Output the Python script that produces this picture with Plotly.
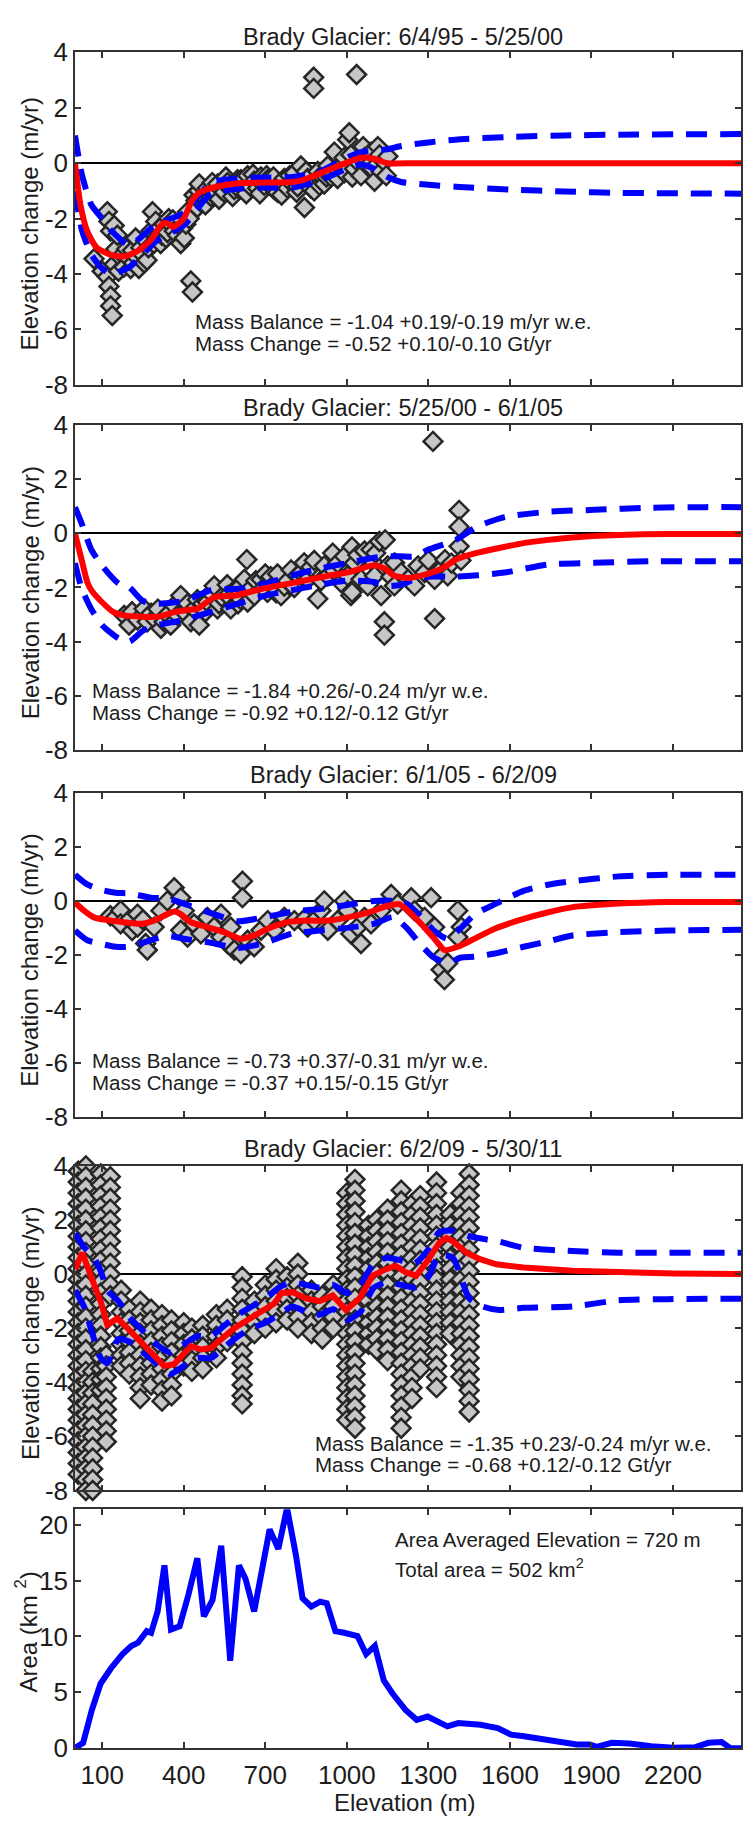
import plotly.graph_objects as go

# ---------------------------------------------------------------- data ----
ELEV_RANGE = [0, 2450]
X_TICKS = [100, 400, 700, 1000, 1300, 1600, 1900, 2200]
DH_TICKS = [-8, -6, -4, -2, 0, 2, 4]
DH_TICK_TEXT = ["-8", "-6", "-4", "-2", "0", "2", "4"]
AREA_TICKS = [0, 5, 10, 15, 20]

TITLES = [
    "Brady Glacier: 6/4/95 - 5/25/00",
    "Brady Glacier: 5/25/00 - 6/1/05",
    "Brady Glacier: 6/1/05 - 6/2/09",
    "Brady Glacier: 6/2/09 - 5/30/11",
]
MB_TEXT = [
    "Mass Balance = -1.04 +0.19/-0.19 m/yr w.e.",
    "Mass Balance = -1.84 +0.26/-0.24 m/yr w.e.",
    "Mass Balance = -0.73 +0.37/-0.31 m/yr w.e.",
    "Mass Balance = -1.35 +0.23/-0.24 m/yr w.e.",
]
MC_TEXT = [
    "Mass Change = -0.52 +0.10/-0.10 Gt/yr",
    "Mass Change = -0.92 +0.12/-0.12 Gt/yr",
    "Mass Change = -0.37 +0.15/-0.15 Gt/yr",
    "Mass Change = -0.68 +0.12/-0.12 Gt/yr",
]

# --- 1995-2000 ---
P1_PT_ELEV = [70, 100, 119, 125, 131, 119, 125, 131, 131, 137, 144, 144, 150, 156, 160, 168, 175, 180,
              190, 199, 205, 211, 215, 223, 229, 235, 242, 250, 255, 260, 265, 270, 279, 285, 290, 297,
              300, 310, 315, 320, 328, 335, 340, 345, 352, 360, 365, 377, 389, 395, 402, 408, 414, 420,
              426, 432, 438, 445, 450, 455, 457, 463, 475, 480, 487, 500, 505, 512, 525, 530, 537, 549,
              555, 561, 574, 580, 586, 598, 605, 610, 623, 630, 635, 647, 655, 659, 672, 680, 684, 696,
              705, 708, 721, 730, 733, 745, 758, 760, 770, 782, 790, 795, 807, 815, 819, 831, 844, 850,
              856, 868, 878, 878, 880, 893, 900, 905, 917, 925, 930, 942, 954, 960, 966, 979, 990, 991,
              1003, 1009, 1015, 1020, 1028, 1036, 1040, 1052, 1060, 1065, 1077, 1089, 1095, 1102, 1114,
              1120, 1126, 1138, 1145, 1151]
P1_PT_DH = [-3.45, -3.9, -1.75, -2.1, -2.45, -4.1, -4.45, -4.8, -5.15, -5.5, -2.25, -3.65, -3.1, -2.6,
            -3.9, -3.4, -3.3, -3.75, -3.1, -3.45, -3.8, -3.15, -3.6, -2.7, -3.4, -3.8, -3.05, -3.3, -3.6,
            -2.8, -3.5, -3.05, -2.45, -1.75, -2.9, -2.1, -2.7, -2.35, -2.9, -2.6, -2.2, -2.7, -2.5, -2.0,
            -2.2, -2.05, -2.45, -2.6, -2.9, -2.35, -2.7, -2.2, -1.75, -2.0, -4.25, -4.65, -1.15, -1.35,
            -1.6, -1.0, -0.75, -1.4, -1.25, -1.5, -0.9, -1.2, -0.7, -1.15, -0.75, -1.3, -0.95, -1.05,
            -0.5, -0.7, -0.95, -1.2, -0.95, -0.6, -0.95, -0.6, -0.9, -1.1, -0.45, -0.85, -0.4, -0.65,
            -0.9, -1.1, -0.5, -0.8, -0.45, -0.6, -0.7, -0.5, -0.95, -1.05, -0.75, -1.15, -0.55, -0.9,
            -0.45, -0.7, -0.35, -1.05, -0.85, -0.1, -1.6, -0.3, -0.55, -0.9, 3.1, 2.7, -1.0, -0.3, -0.8,
            -0.45, -0.75, -0.5, -0.1, -0.5, 0.4, -0.2, -0.55, -0.1, 0.2, -0.35, 0.85, 1.1, 0.3, -0.5,
            -0.2, 3.2, 0.05, -0.45, 0.6, 0.2, -0.1, 0.4, -0.2, -0.65, 0.6, 0.3, -0.3, 0.05, -0.45, 0.25]
P1_FIT_ELEV = [0, 20, 45, 80, 130, 180, 230, 280, 320, 340, 360, 400, 430, 460, 520, 600, 700, 780,
               830, 880, 940, 1000, 1050, 1100, 1150, 1250, 1500, 2000, 2450]
P1_FIT_DH = [0.0, -1.5, -2.45, -3.05, -3.3, -3.37, -3.17, -2.76, -2.2, -2.17, -2.3, -2.0, -1.35, -1.05,
             -0.85, -0.72, -0.7, -0.69, -0.63, -0.45, -0.21, 0.02, 0.2, 0.16, 0.0, 0.0, 0.0, 0.0, 0.0]
P1_BAND_ELEV = [0, 25, 60, 100, 130, 200, 300, 400, 500, 600, 700, 800, 900, 1000, 1050, 1100, 1150,
                1200, 1300, 1400, 1600, 1800, 2000, 2450]
P1_UPPER = [1.0, -0.4, -1.5, -2.0, -2.4, -2.95, -2.2, -1.8, -0.7, -0.55, -0.52, -0.5, -0.3, 0.2, 0.4,
            0.45, 0.5, 0.62, 0.75, 0.85, 0.95, 1.0, 1.03, 1.05]
P1_LOWER = [-1.0, -2.4, -3.3, -3.8, -4.0, -3.75, -2.8, -2.25, -1.1, -0.92, -0.88, -0.88, -0.62, -0.2,
            -0.05, -0.2, -0.5, -0.68, -0.78, -0.85, -0.95, -1.02, -1.07, -1.1]

# --- 2000-2005 ---
P2_PT_ELEV = [181, 199, 210, 230, 254, 266, 280, 291, 305, 316, 328, 340, 352, 365, 377, 389, 402, 414,
              426, 438, 450, 457, 470, 480, 487, 500, 512, 524, 530, 540, 560, 561, 573, 586, 598, 600,
              610, 623, 632, 635, 650, 660, 665, 684, 696, 700, 708, 720, 733, 740, 745, 758, 770, 782,
              795, 807, 820, 831, 843, 856, 868, 880, 893, 905, 917, 930, 948, 954, 966, 979, 991, 1003,
              1015, 1019, 1019, 1028, 1040, 1052, 1065, 1077, 1089, 1100, 1102, 1106, 1120, 1126, 1138,
              1138, 1141, 1150, 1162, 1175, 1176, 1200, 1225, 1249, 1262, 1286, 1300, 1317, 1323, 1323,
              1347, 1361, 1371, 1385, 1413, 1413, 1413, 1420]
P2_PT_DH = [-3.03, -3.39, -2.9, -3.2, -2.79, -3.27, -2.95, -3.15, -2.8, -3.51, -3.27, -3.0, -3.39, -2.67,
            -3.03, -2.3, -2.91, -2.6, -3.27, -2.79, -2.45, -3.39, -2.6, -2.9, -2.54, -2.2, -1.94, -2.79,
            -2.6, -2.35, -1.9, -2.3, -2.79, -2.1, -2.06, -2.6, -2.45, -1.7, -0.97, -2.54, -2.0, -2.3,
            -1.75, -1.7, -2.0, -1.5, -2.18, -1.6, -1.88, -2.2, -1.5, -2.3, -1.95, -1.76, -1.35, -2.0,
            -1.55, -1.45, -1.09, -1.7, -1.25, -1.0, -2.42, -1.75, -1.2, -1.57, -0.73, -1.39, -1.1, -1.82,
            -0.85, -1.57, -2.3, -0.5, -2.18, -1.1, -0.8, -1.7, -0.65, -1.94, -0.6, -1.1, -1.57, -0.73,
            -0.3, -2.3, -3.27, -3.76, -0.24, -1.2, -1.6, -1.94, -1.09, -1.45, -1.7, -1.94, -1.2, -1.45,
            -1.0, 3.4, -1.7, -3.15, -1.33, -0.97, -1.57, -1.1, 0.85, 0.24, -0.48, -1.0]
P2_FIT_ELEV = [0, 25, 45, 60, 95, 140, 180, 230, 280, 320, 365, 420, 450, 512, 586, 684, 807, 930,
               1000, 1052, 1100, 1140, 1175, 1225, 1297, 1350, 1405, 1475, 1560, 1650, 1740, 1830, 2000,
               2180, 2450]
P2_FIT_DH = [0.0, -1.0, -1.8, -2.1, -2.5, -2.9, -3.03, -3.07, -3.09, -3.05, -2.91, -2.82, -2.79, -2.36,
             -2.3, -2.06, -1.82, -1.57, -1.45, -1.3, -1.18, -1.3, -1.57, -1.65, -1.5, -1.3, -0.95, -0.73,
             -0.54, -0.36, -0.24, -0.15, -0.06, -0.02, -0.02]
P2_BAND_ELEV = [0, 25, 60, 100, 160, 200, 250, 300, 400, 500, 600, 700, 800, 900, 1000, 1100, 1150,
                1200, 1250, 1300, 1400, 1480, 1580, 1740, 1910, 2120, 2320, 2450]
P2_UPPER = [0.97, 0.35, -0.6, -1.2, -1.85, -2.0, -2.5, -2.6, -2.5, -2.1, -2.05, -1.85, -1.55, -1.3,
            -1.1, -0.9, -0.85, -0.85, -0.85, -0.6, -0.25, 0.25, 0.6, 0.8, 0.87, 0.95, 0.97, 0.97]
P2_LOWER = [-1.1, -2.05, -2.8, -3.4, -3.88, -4.0, -3.6, -3.4, -3.2, -2.9, -2.6, -2.3, -2.1, -1.9,
            -1.75, -1.8, -1.95, -1.9, -1.7, -1.6, -1.6, -1.55, -1.45, -1.15, -1.09, -1.03, -1.03, -1.03]

# --- 2005-2009 ---
P3_PT_ELEV = [130, 150, 168, 168, 200, 210, 230, 230, 250, 260, 266, 291, 316, 340, 365, 389, 402, 389,
              414, 438, 463, 487, 512, 537, 537, 561, 573, 586, 610, 616, 616, 635, 659, 684, 709, 733,
              770, 807, 844, 856, 880, 905, 917, 930, 966, 991, 1003, 1015, 1040, 1052, 1065, 1089,
              1126, 1163, 1187, 1237, 1249, 1286, 1310, 1323, 1347, 1347, 1359, 1371, 1408, 1421, 1408]
P3_PT_DH = [-0.55, -0.6, -0.36, -0.85, -0.7, -1.1, -0.49, -0.97, -0.7, -1.58, -1.82, -0.97, -0.36, 0.0,
            0.49, 0.12, -0.36, -1.09, -1.34, -0.85, -1.22, -0.61, -0.97, -0.49, -1.34, -1.58, -0.97,
            -1.82, -1.95, 0.73, 0.12, -1.46, -1.7, -1.09, -0.73, -1.09, -0.61, -0.73, -0.67, -0.97,
            -0.73, -0.36, 0.0, -1.09, -0.73, 0.0, -0.36, -1.22, -0.97, -1.58, -0.61, -0.85, -0.36, 0.24,
            -0.12, 0.12, -0.36, -0.61, 0.12, -0.97, -2.07, -2.55, -2.92, -2.31, -0.36, -0.97, -1.34]
P3_FIT_ELEV = [0, 33, 70, 119, 180, 242, 291, 328, 365, 389, 426, 487, 549, 610, 659, 709, 782, 856,
               930, 1003, 1077, 1151, 1193, 1224, 1273, 1322, 1359, 1408, 1470, 1544, 1650, 1738, 1826,
               2000, 2180, 2450]
P3_FIT_DH = [-0.06, -0.36, -0.61, -0.71, -0.79, -0.85, -0.73, -0.55, -0.39, -0.49, -0.79, -0.97, -1.16,
             -1.4, -1.28, -1.03, -0.79, -0.73, -0.73, -0.61, -0.43, -0.18, -0.12, -0.36, -0.85, -1.4,
             -1.82, -1.7, -1.4, -1.03, -0.67, -0.43, -0.24, -0.1, -0.04, -0.04]
P3_BAND_ELEV = [0, 45, 100, 150, 200, 280, 340, 400, 500, 600, 700, 800, 900, 1000, 1100, 1170, 1220,
                1270, 1320, 1370, 1420, 1470, 1545, 1650, 1740, 1830, 2000, 2180, 2450]
P3_UPPER = [0.97, 0.61, 0.4, 0.3, 0.28, 0.12, 0.1, -0.1, -0.45, -0.75, -0.6, -0.4, -0.3, -0.15, 0.0,
            0.0, -0.1, -0.55, -1.1, -1.4, -1.0, -0.5, -0.12, 0.37, 0.6, 0.73, 0.91, 0.97, 0.97]
P3_LOWER = [-1.1, -1.46, -1.6, -1.7, -1.7, -1.45, -1.3, -1.4, -1.55, -1.75, -1.55, -1.2, -1.1, -1.0,
            -0.85, -0.6, -1.0, -1.6, -2.1, -2.3, -2.1, -2.07, -1.95, -1.7, -1.5, -1.28, -1.16, -1.1, -1.07]

# --- 2009-2011: points stacked in columns at each sampled elevation ---
P4_COL_ELEV = [12, 40, 65, 95, 115, 130, 170, 200, 240, 280, 320, 355, 400, 430, 470, 520, 560, 615,
               660, 700, 740, 780, 820, 870, 910, 950, 1000, 1030, 1080, 1110, 1150, 1200, 1240, 1270,
               1330, 1380, 1420, 1450]
P4_COL_DH = [
    [4.2, 3.8, 3.4, 3.0, 2.6, 2.2, 1.8, 1.4, 1.0, 0.6, 0.2, -0.2, -0.6, -1.0, -1.4, -1.8, -2.2, -2.6,
     -3.0, -3.4, -3.8, -4.2, -4.6, -5.0, -5.4, -5.8, -6.2, -6.6, -7.0, -7.4],
    [4.0, 3.6, 3.2, 2.8, 2.4, 2.0, 1.6, 1.2, 0.8, 0.4, 0.0, -0.4, -0.8, -1.2, -1.6, -2.0, -2.4, -2.8,
     -3.2, -3.6, -4.0, -4.4, -4.8, -5.2, -5.6, -6.0, -6.4, -6.8, -7.2, -7.6, -8.0],
    [-3.6, -4.0, -4.4, -4.8, -5.2, -5.6, -6.0, -6.4, -6.8, -7.2, -7.6, -8.0],
    [4.1, 3.7, 3.3, 2.9, 2.5, 2.1, 1.7, 1.3, 0.9, 0.5, 0.1, -0.3, -0.7, -1.1, -1.5, -1.9, -2.3, -2.7,
     -3.1, -3.5, -3.9, -4.3],
    [-3.0, -3.4, -3.8, -4.2, -4.6, -5.0, -5.4, -5.8, -6.2],
    [3.6, 3.2, 2.8, 2.4, 2.0, 1.6, 1.2, 0.8, 0.4, 0.0, -0.4, -0.8],
    [-0.6, -1.0, -1.4, -1.8, -2.2, -2.6, -3.0, -3.4],
    [-1.3, -1.7, -2.1, -2.5, -2.9, -3.3, -3.7],
    [-1.0, -1.4, -1.8, -2.2, -2.6, -3.0, -3.4, -3.8, -4.2, -4.6],
    [-1.3, -1.7, -2.1, -2.5, -2.9, -3.3, -3.7, -4.1],
    [-1.5, -1.9, -2.3, -2.7, -3.1, -3.5, -3.9, -4.3, -4.7],
    [-1.7, -2.1, -2.5, -2.9, -3.3, -3.7, -4.1, -4.5],
    [-1.8, -2.2, -2.6, -3.0, -3.4],
    [-2.0, -2.4, -2.8, -3.2, -3.6],
    [-1.9, -2.3, -2.7, -3.1, -3.5],
    [-1.5, -1.9, -2.3, -2.7, -3.1],
    [-1.3, -1.7, -2.1, -2.5],
    [-0.1, -0.5, -0.9, -1.3, -1.7, -2.1, -2.5, -2.9, -3.3, -3.7, -4.1, -4.5, -4.8],
    [-1.0, -1.4, -1.8, -2.2],
    [-0.4, -0.8, -1.2, -1.6, -2.0],
    [0.2, -0.2, -0.6, -1.0, -1.4, -1.8],
    [-0.1, -0.5, -0.9, -1.3, -1.7],
    [0.4, 0.0, -0.4, -0.8, -1.2, -1.6, -2.0],
    [-0.6, -1.0, -1.4, -1.8, -2.2],
    [-0.8, -1.2, -1.6, -2.0, -2.4],
    [-0.4, -0.8, -1.2, -1.6, -2.0],
    [3.0, 2.6, 2.2, 1.8, 1.4, 1.0, 0.6, 0.2, -0.2, -0.6, -1.0, -1.4, -1.8, -2.2, -2.6, -3.0, -3.4,
     -3.8, -4.2, -4.6, -5.0, -5.4],
    [3.5, 3.1, 2.7, 2.3, 1.9, 1.5, 1.1, 0.7, 0.3, -0.1, -0.5, -0.9, -1.3, -1.7, -2.1, -2.5, -2.9,
     -3.3, -3.7, -4.1, -4.5, -4.9, -5.3, -5.7],
    [1.8, 1.4, 1.0, 0.6, 0.2, -0.2, -0.6, -1.0, -1.4, -1.8, -2.2, -2.6],
    [2.0, 1.6, 1.2, 0.8, 0.4, 0.0, -0.4, -0.8, -1.2, -1.6, -2.0, -2.4, -2.8],
    [2.4, 2.0, 1.6, 1.2, 0.8, 0.4, 0.0, -0.4, -0.8, -1.2, -1.6, -2.0, -2.4, -2.8, -3.2],
    [3.1, 2.7, 2.3, 1.9, 1.5, 1.1, 0.7, 0.3, -0.1, -0.5, -0.9, -1.3, -1.7, -2.1, -2.5, -2.9, -3.3,
     -3.7, -4.1, -4.5, -4.9, -5.3, -5.7],
    [2.6, 2.2, 1.8, 1.4, 1.0, 0.6, 0.2, -0.2, -0.6, -1.0, -1.4, -1.8, -2.2, -2.6, -3.0, -3.4, -3.8,
     -4.2, -4.6],
    [2.9, 2.5, 2.1, 1.7, 1.3, 0.9, 0.5, 0.1, -0.3, -0.7, -1.1, -1.5, -1.9, -2.3, -2.7, -3.1, -3.5],
    [3.4, 3.0, 2.6, 2.2, 1.8, 1.4, 1.0, 0.6, 0.2, -0.2, -0.6, -1.0, -1.4, -1.8, -2.2, -2.6, -3.0,
     -3.4, -3.8, -4.2],
    [2.2, 1.8, 1.4, 1.0, 0.6, 0.2, -0.2, -0.6, -1.0, -1.4, -1.8, -2.2],
    [3.0, 2.6, 2.2, 1.8, 1.4, 1.0, 0.6, 0.2, -0.2, -0.6, -1.0, -1.4, -1.8, -2.2, -2.6, -3.0, -3.4,
     -3.8],
    [4.1, 3.7, 3.3, 2.9, 2.5, 2.1, 1.7, 1.3, 0.9, 0.5, 0.1, -0.3, -0.7, -1.1, -1.5, -1.9, -2.3, -2.7,
     -3.1, -3.5, -3.9, -4.3, -4.7, -5.1],
]
P4_FIT_ELEV = [0, 27, 58, 95, 119, 156, 193, 242, 291, 328, 365, 402, 426, 463, 500, 537, 586, 635,
               684, 733, 760, 801, 850, 900, 948, 997, 1046, 1095, 1144, 1180, 1218, 1255, 1292, 1340,
               1366, 1390, 1440, 1490, 1550, 1650, 1830, 2000, 2200, 2450]
P4_FIT_DH = [0.18, 0.79, -0.06, -1.03, -1.88, -1.64, -2.0, -2.49, -2.97, -3.4, -3.33, -2.97, -2.67,
             -2.79, -2.73, -2.42, -2.0, -1.7, -1.4, -1.09, -0.7, -0.67, -0.9, -1.0, -0.79, -1.33, -0.91,
             -0.06, 0.18, 0.3, 0.06, -0.06, 0.42, 1.15, 1.33, 1.21, 0.79, 0.55, 0.36, 0.24, 0.12, 0.06,
             0.02, 0.0]
P4_BAND_ELEV = [0, 33, 70, 95, 119, 160, 200, 250, 300, 350, 400, 450, 500, 550, 600, 650, 700, 750,
                800, 850, 900, 950, 1000, 1050, 1100, 1150, 1200, 1250, 1300, 1340, 1390, 1450, 1500,
                1560, 1650, 1830, 2000, 2180, 2450]
P4_UPPER = [1.5, 1.0, 0.6, 0.1, -0.6, -1.0, -1.6, -2.1, -2.6, -2.9, -2.6, -2.3, -2.3, -1.9, -1.5,
            -1.2, -0.9, -0.5, -0.3, -0.4, -0.5, -0.4, -0.7, -0.4, 0.4, 0.6, 0.5, 0.4, 0.9, 1.55, 1.6,
            1.4, 1.3, 1.2, 0.97, 0.85, 0.79, 0.79, 0.79]
P4_LOWER = [-0.6, -1.2, -2.4, -3.1, -3.3, -2.4, -2.5, -2.9, -3.3, -3.7, -3.4, -3.1, -3.1, -2.7, -2.3,
            -2.0, -1.8, -1.5, -1.2, -1.4, -1.5, -1.3, -1.7, -1.4, -0.5, -0.3, -0.4, -0.5, -0.1, 0.7,
            0.6, -0.9, -1.2, -1.33, -1.25, -1.2, -0.97, -0.93, -0.91]

# --- area-altitude distribution ---
P5_ELEV = [2, 30, 62, 94, 135, 175, 207, 232, 264, 280, 304, 329, 353, 385, 417, 450, 474, 506, 538,
           571, 603, 627, 659, 716, 748, 780, 813, 837, 869, 902, 926, 958, 990, 1039, 1071, 1103,
           1136, 1168, 1216, 1257, 1297, 1329, 1370, 1410, 1491, 1555, 1604, 1652, 1717, 1781, 1846,
           1894, 1919, 1975, 2040, 2120, 2201, 2282, 2330, 2379, 2411, 2450]
P5_AREA = [0.03, 0.48, 3.42, 5.77, 7.24, 8.42, 9.15, 9.45, 10.48, 10.33, 12.24, 16.36, 10.62, 10.92,
           13.71, 17.0, 11.8, 13.27, 18.12, 7.83, 16.36, 15.18, 12.24, 19.59, 17.83, 21.5, 17.24,
           13.42, 12.68, 13.12, 12.97, 10.48, 10.33, 10.04, 8.42, 9.15, 6.06, 4.89, 3.42, 2.54, 2.83,
           2.39, 1.95, 2.24, 2.09, 1.8, 1.21, 1.06, 0.83, 0.62, 0.33, 0.33, 0.12, 0.48, 0.42, 0.18,
           0.03, 0.09, 0.48, 0.54, 0.0, 0.0]
AREA_NOTE = ["Area Averaged Elevation = 720 m", "Total area = 502 km<sup>2</sup>"]

# ------------------------------------------------------------- layout -----
W, H = 744, 1832
X_LEFT, X_RIGHT = 75, 741
PANELS_PX = [(38, 376), (417, 747), (791, 1120), (1170, 1500), (1519, 1762)]
TITLE_Y = [22, 400, 773, 1153]
NOTE_POS = [(193, 312), (90, 687), (90, 1063), (313, 1452)]
NOTE_GAP = 22

FONT = "Liberation Sans, Arial, Helvetica, sans-serif"
INK = "#1c1c1c"
AXIS_INK = "#333333"


def fx(p):
    return p / W


def fy(p):
    return 1 - p / H


fig = go.Figure()

diamond = dict(symbol="diamond", size=14.5, color="#c6c6c6",
               line=dict(color="#262626", width=2.5))
band_line = dict(color="#0000ff", width=6, dash="21px,13px")
fit_line = dict(color="#ff0000", width=6)

p4_x, p4_y = [], []
for elev, col in zip(P4_COL_ELEV, P4_COL_DH):
    for v in col:
        p4_x.append(elev)
        p4_y.append(v)

panels = [
    (P1_PT_ELEV, P1_PT_DH, P1_BAND_ELEV, P1_UPPER, P1_LOWER, P1_FIT_ELEV, P1_FIT_DH, "spline"),
    (P2_PT_ELEV, P2_PT_DH, P2_BAND_ELEV, P2_UPPER, P2_LOWER, P2_FIT_ELEV, P2_FIT_DH, "spline"),
    (P3_PT_ELEV, P3_PT_DH, P3_BAND_ELEV, P3_UPPER, P3_LOWER, P3_FIT_ELEV, P3_FIT_DH, "spline"),
    (p4_x, p4_y, P4_BAND_ELEV, P4_UPPER, P4_LOWER, P4_FIT_ELEV, P4_FIT_DH, "linear"),
]

for i, (px, py, be, up, lo, fe, fd, shape) in enumerate(panels):
    ax = "" if i == 0 else str(i + 1)
    xa, ya = "x" + ax, "y" + ax
    fig.add_trace(go.Scatter(x=px, y=py, mode="markers", marker=diamond, cliponaxis=False,
                             xaxis=xa, yaxis=ya, showlegend=False, hoverinfo="skip"))
    for band in (up, lo):
        fig.add_trace(go.Scatter(x=be, y=band, mode="lines",
                                 line=dict(band_line, shape="spline", smoothing=0.6),
                                 xaxis=xa, yaxis=ya, showlegend=False, hoverinfo="skip"))
    fig.add_trace(go.Scatter(x=fe, y=fd, mode="lines",
                             line=dict(fit_line, shape=shape, smoothing=0.6),
                             xaxis=xa, yaxis=ya, showlegend=False, hoverinfo="skip"))

fig.add_trace(go.Scatter(x=P5_ELEV, y=P5_AREA, mode="lines", line=dict(color="#0000ff", width=6),
                         xaxis="x5", yaxis="y5", showlegend=False, hoverinfo="skip"))

axis_common = dict(showline=True, mirror="ticks", linecolor=AXIS_INK, linewidth=1.5,
                   ticks="inside", ticklen=6, tickwidth=1.5, tickcolor=AXIS_INK,
                   showgrid=False, tickfont=dict(family=FONT, size=26, color=INK))

layout = {}
for i, (top, bot) in enumerate(PANELS_PX):
    ax = "" if i == 0 else str(i + 1)
    layout["xaxis" + ax] = dict(axis_common, domain=[fx(X_LEFT), fx(X_RIGHT)], range=ELEV_RANGE,
                                tickvals=X_TICKS, showticklabels=(i == 4), zeroline=False,
                                anchor="y" + ax, ticklabelstandoff=3)
    if i < 4:
        layout["yaxis" + ax] = dict(axis_common, domain=[fy(bot), fy(top)], range=[-8, 4],
                                    tickvals=DH_TICKS, ticktext=DH_TICK_TEXT, zeroline=True,
                                    zerolinecolor="#000000", zerolinewidth=2, anchor="x" + ax)
    else:
        layout["yaxis" + ax] = dict(axis_common, domain=[fy(bot), fy(top)], range=[0, 21.4],
                                    tickvals=AREA_TICKS, zeroline=False, anchor="x" + ax)

annotations = []
for i in range(4):
    top, bot = PANELS_PX[i]
    annotations.append(dict(text=TITLES[i], x=fx(403), y=fy(TITLE_Y[i]), xref="paper", yref="paper",
                            xanchor="center", yanchor="middle", showarrow=False,
                            font=dict(family=FONT, size=23.5, color=INK)))
    annotations.append(dict(text="Elevation change (m/yr)", x=fx(30), y=fy((top + bot) / 2 + 6),
                            xref="paper", yref="paper", xanchor="center", yanchor="middle",
                            textangle=-90, showarrow=False,
                            font=dict(family=FONT, size=24, color=INK)))
    nx, ny = NOTE_POS[i]
    for k, line in enumerate([MB_TEXT[i], MC_TEXT[i]]):
        annotations.append(dict(text=line, x=fx(nx), y=fy(ny + k * NOTE_GAP), xref="paper",
                                yref="paper", xanchor="left", yanchor="middle", showarrow=False,
                                font=dict(family=FONT, size=20.5, color=INK)))

top5, bot5 = PANELS_PX[4]
annotations.append(dict(text="Area (km <sup>2</sup>)", x=fx(26), y=fy((top5 + bot5) / 2 + 4),
                        xref="paper", yref="paper", xanchor="center", yanchor="middle",
                        textangle=-90, showarrow=False, font=dict(family=FONT, size=24, color=INK)))
for k, line in enumerate(AREA_NOTE):
    annotations.append(dict(text=line, x=fx(393), y=fy(1550 + k * 29), xref="paper", yref="paper",
                            xanchor="left", yanchor="middle", showarrow=False,
                            font=dict(family=FONT, size=20.5, color=INK)))
annotations.append(dict(text="Elevation (m)", x=fx(405), y=fy(1817), xref="paper", yref="paper",
                        xanchor="center", yanchor="middle", showarrow=False,
                        font=dict(family=FONT, size=24, color=INK)))

fig.update_layout(width=W, height=H, margin=dict(l=0, r=0, t=0, b=0), paper_bgcolor="white",
                  plot_bgcolor="white", annotations=annotations, **layout)

fig.write_html("out.html", config={"displayModeBar": False})
